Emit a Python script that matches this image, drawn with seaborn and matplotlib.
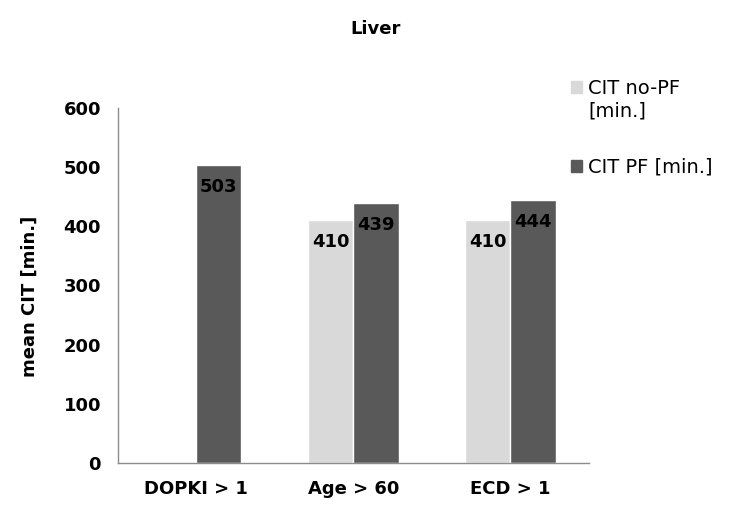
import numpy as np
import pandas as pd
import matplotlib
matplotlib.use("Agg")
import matplotlib.pyplot as plt
from matplotlib.legend_handler import HandlerPatch
import seaborn as sns

# données
categories = ["DOPKI > 1", "Age > 60", "ECD > 1"]
series = ["CIT no-PF\n[min.]", "CIT PF [min.]"]
cit_no_pf = [np.nan, 410, 410]
cit_pf = [503, 439, 444]
yticks = [0, 100, 200, 300, 400, 500, 600]
colors = ["#d9d9d9", "#595959"]

df = pd.DataFrame({
    "categorie": categories * 2,
    "serie": [series[0]] * 3 + [series[1]] * 3,
    "valeur": cit_no_pf + cit_pf,
})

sns.set_style("white")
plt.rcParams["font.family"] = ["DejaVu Sans"]
plt.rcParams["text.color"] = "black"
plt.rcParams["axes.labelcolor"] = "black"

fig = plt.figure(figsize=(7.4, 5.3), dpi=100)
ax = fig.add_axes([0.159, 0.1264, 0.637, 0.67])

sns.barplot(data=df, x="categorie", y="valeur", hue="serie", order=categories,
            hue_order=series, palette=colors, errorbar=None, width=0.575,
            gap=0, saturation=1, ax=ax, legend=False)

# étiquettes dans les barres
for cont in ax.containers:
    for p in cont.patches:
        h = p.get_height()
        if np.isnan(h) or h == 0:
            continue
        ax.annotate(f"{h:.0f}", xy=(p.get_x() + p.get_width() / 2, h),
                    xytext=(0, -9), textcoords="offset points",
                    ha="center", va="top", fontsize=13, fontweight="bold",
                    color="black")

ax.set_ylim(0, 600)
ax.set_yticks(yticks)
ax.set_yticklabels([str(t) for t in yticks], fontsize=13, fontweight="bold")
ax.set_xlim(-0.5, len(categories) - 0.5)
ax.set_xticks(np.arange(len(categories) + 1) - 0.5)
ax.set_xticklabels([])
ax.set_xticks(np.arange(len(categories)), minor=True)
ax.set_xticklabels(categories, minor=True, fontsize=13, fontweight="bold")
ax.tick_params(axis="x", which="minor", length=0, pad=12, labelcolor="black")
ax.tick_params(axis="x", which="major", length=5, color="#8c8c8c", direction="out")
ax.tick_params(axis="y", length=6, color="#8c8c8c", direction="out", pad=6,
               labelcolor="black")
ax.set_xlabel("")
ax.set_ylabel("mean CIT [min.]", fontsize=13, fontweight="bold")
ax.yaxis.set_label_coords(-0.168, 0.468)

sns.despine(ax=ax)
for s in ["left", "bottom"]:
    ax.spines[s].set_color("#8c8c8c")
    ax.spines[s].set_linewidth(1)

fig.text(0.507, 0.945, "Liver", ha="center", va="center", fontsize=13, fontweight="bold")


# carré de légende aligné sur la première ligne du texte
def carre_haut(nlignes):
    def f(legend, orig_handle, xdescent, ydescent, width, height, fontsize):
        shift = (nlignes - 1) * 0.69 * fontsize
        return plt.Rectangle((-xdescent, -ydescent + shift), width, height)
    return f


handles = [plt.Rectangle((0, 0), 1, 1, color=c) for c in colors]
hmap = {h: HandlerPatch(patch_func=carre_haut(lab.count("\n") + 1))
        for h, lab in zip(handles, series)}
fig.legend(handles, series, loc="upper left", bbox_to_anchor=(0.772, 0.85),
           frameon=False, fontsize=14, handlelength=0.57, handleheight=0.57,
           handletextpad=0.3, labelspacing=1.9, borderaxespad=0, borderpad=0,
           handler_map=hmap)

plt.savefig("out.png", dpi=100)
plt.close()
